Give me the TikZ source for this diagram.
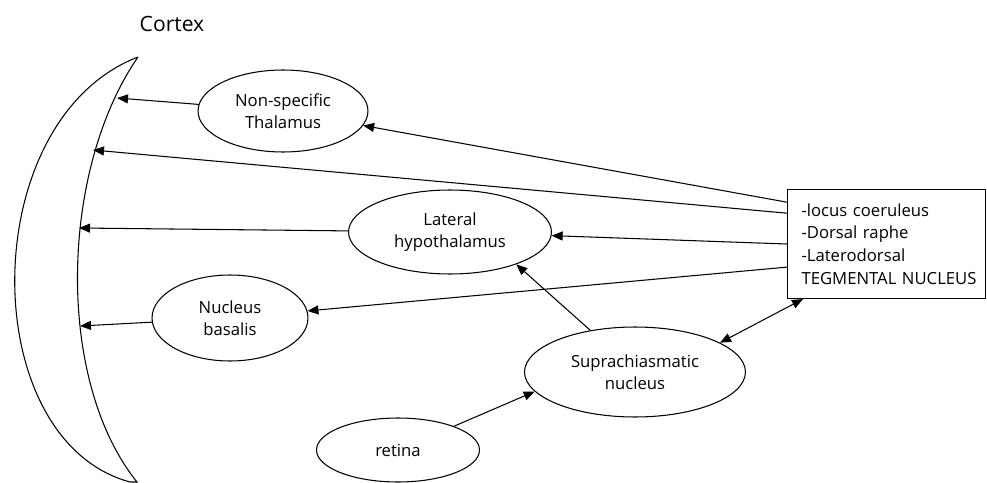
\documentclass[tikz,border=0pt]{standalone}
\usepackage{fontspec}
\setmainfont{Open Sans}
\usetikzlibrary{shapes.geometric, arrows.meta, calc}

\tikzset{
  region/.style={draw, ellipse, line width=0.6pt, inner sep=0pt, align=center, font=\fontsize{9.5}{12.5}\selectfont},
  proj/.style={draw, line width=0.6pt, -{Triangle[length=2.2mm,width=1.8mm]}},
  twoway/.style={proj, {Triangle[length=2.2mm,width=1.8mm]}-{Triangle[length=2.2mm,width=1.8mm]}},
}

\begin{document}
\begin{tikzpicture}[x=0.02cm, y=-0.02cm]
    \useasboundingbox (0,0) rectangle (987,483);
    % cortex
    \node (ctxlabel) at (172,24) {\fontsize{12}{14}\selectfont Cortex};
    \draw[line width=0.6pt] (138,57) .. controls (-25,120) and (-25,440) .. (130,482)
        -- (137,482) .. controls (55,380) and (60,170) .. (138,57);
    \coordinate (cx1) at (117,98);
    \coordinate (cx2) at (93,150);
    \coordinate (cx3) at (79,228);
    \coordinate (cx4) at (80,326);
    % regions
    \node[region, minimum width=3.4cm, minimum height=1.64cm] (thal) at (283,111) {Non-specific\\Thalamus};
    \node[region, minimum width=4.06cm, minimum height=1.68cm] (lh) at (450,232) {Lateral\\hypothalamus};
    \node[region, minimum width=3.12cm, minimum height=1.72cm] (nb) at (230,318) {Nucleus\\basalis};
    \node[region, minimum width=4.42cm, minimum height=1.8cm] (scn) at (635,372) {Suprachiasmatic\\nucleus};
    \node[region, minimum width=3.26cm, minimum height=1.28cm] (retina) at (398,450) {retina};
    % brainstem nuclei
    \node[draw, line width=0.6pt, anchor=north west, inner xsep=0.18cm, text width=3.6cm, minimum height=2.18cm,
          align=left, font=\fontsize{9.5}{13}\selectfont] (nuclei) at (787,189)
          {\hspace*{0.1cm}-locus coeruleus\\\hspace*{0.1cm}-Dorsal raphe\\\hspace*{0.1cm}-Laterodorsal\\\hspace*{0.1cm}\mbox{TEGMENTAL NUCLEUS}};
    \coordinate (b1) at ($(nuclei.north west)!0.12!(nuclei.south west)$);
    \coordinate (b2) at ($(nuclei.north west)!0.22!(nuclei.south west)$);
    \coordinate (b3) at ($(nuclei.north west)!0.5!(nuclei.south west)$);
    \coordinate (b4) at ($(nuclei.north west)!0.71!(nuclei.south west)$);
    \coordinate (b5) at ($(nuclei.south west)+(16,0)$);
    % projections
    \draw[proj] (thal) -- (cx1);
    \draw[proj] (b1) -- (thal);
    \draw[proj] (b2) -- (cx2);
    \draw[proj] (lh) -- (cx3);
    \draw[proj] (b3) -- (lh);
    \draw[proj] (b4) -- (nb);
    \draw[proj] (nb) -- (cx4);
    \draw[proj] (scn.137) -- (lh.-26);
    \draw[proj] (retina.23) -- (scn.191);
    \draw[twoway] (scn.19) -- (b5);
  \end{tikzpicture}
\end{document}
